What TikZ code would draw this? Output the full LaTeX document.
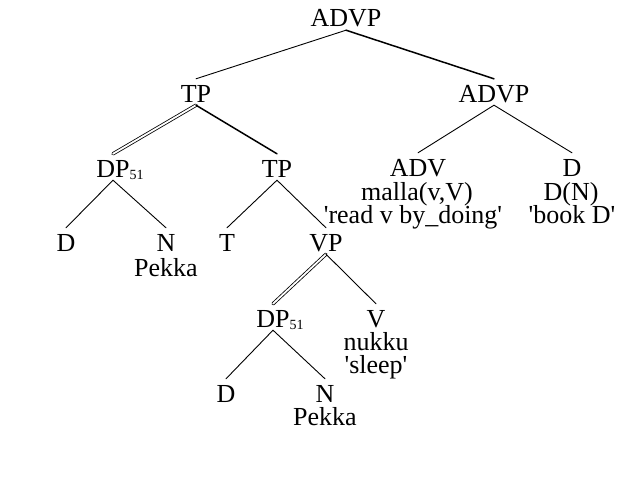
\documentclass[tikz,border=0pt]{standalone}
\usepackage{fontspec}
\newfontfamily\treefont{Liberation Serif}
\newcommand{\trsub}[1]{\rlap{\raisebox{-2.5pt}{\fontsize{14}{14}\selectfont #1}}}
\begin{document}
\begin{tikzpicture}[x=1pt, y=-1pt, line join=round, line cap=round,
  font={\treefont\fontsize{26}{23.5}\selectfont},
  cat/.style={anchor=base, inner xsep=0pt, inner ysep=3pt, text height=20pt, text depth=0pt},
  gloss/.style={anchor=base, inner sep=0pt},
  edge/.style={line width=0.9pt},
  heavy/.style={line width=1.5pt},
  twin/.style={double, double distance=1.8pt, line width=0.8pt}]
\useasboundingbox (0,0) rectangle (628,495);
% categories
\node[cat] (root) at (346,27) {ADVP};
\node[cat] (tp) at (196,102) {TP};
\node[cat] (advp) at (494,102) {ADVP};
\node[cat] (dp) at (113,177) {DP\trsub{51}};
\node[cat] (tpp) at (277,177) {TP};
\node[cat] (adv) at (418,176) {ADV};
\node[cat] (dr) at (572,176) {D};
\node[cat] (d) at (66,251) {D};
\node[cat] (n) at (166,251) {N};
\node[cat] (t) at (227,251) {T};
\node[cat] (vp) at (326,251) {VP};
\node[cat] (dpp) at (273,327) {DP\trsub{51}};
\node[cat] (v) at (376,327) {V};
\node[cat] (dd) at (226,402) {D};
\node[cat] (nn) at (325,402) {N};
% glosses
\node[gloss] (malla) at (417,200) {malla(v,V)};
\node[gloss] (read) at (413,223) {'read v by\_doing'};
\node[gloss] (dn) at (571,200) {D(N)};
\node[gloss] (book) at (572,223) {'book D'};
\node[gloss] (pekka) at (166,276) {Pekka};
\node[gloss] (nukku) at (376,350) {nukku};
\node[gloss] (sleep) at (376,373) {'sleep'};
\node[gloss] (pekkaa) at (325,425) {Pekka};
% branches
\draw[edge] (root.south) -- (tp.north);
\draw[heavy] (root.south) -- (advp.north);
\draw[twin] (tp.south) -- (dp.north);
\draw[heavy] (tp.south) -- (tpp.north);
\draw[edge] (advp.south) -- (adv.north);
\draw[edge] (advp.south) -- (dr.north);
\draw[edge] (dp.south) -- (d.north);
\draw[edge] (dp.south) -- (n.north);
\draw[edge] (tpp.south) -- (t.north);
\draw[edge] (tpp.south) -- (vp.north);
\draw[twin] (vp.south) -- (dpp.north);
\draw[edge] (vp.south) -- (v.north);
\draw[edge] (dpp.south) -- (dd.north);
\draw[edge] (dpp.south) -- (nn.north);
\end{tikzpicture}
\end{document}
